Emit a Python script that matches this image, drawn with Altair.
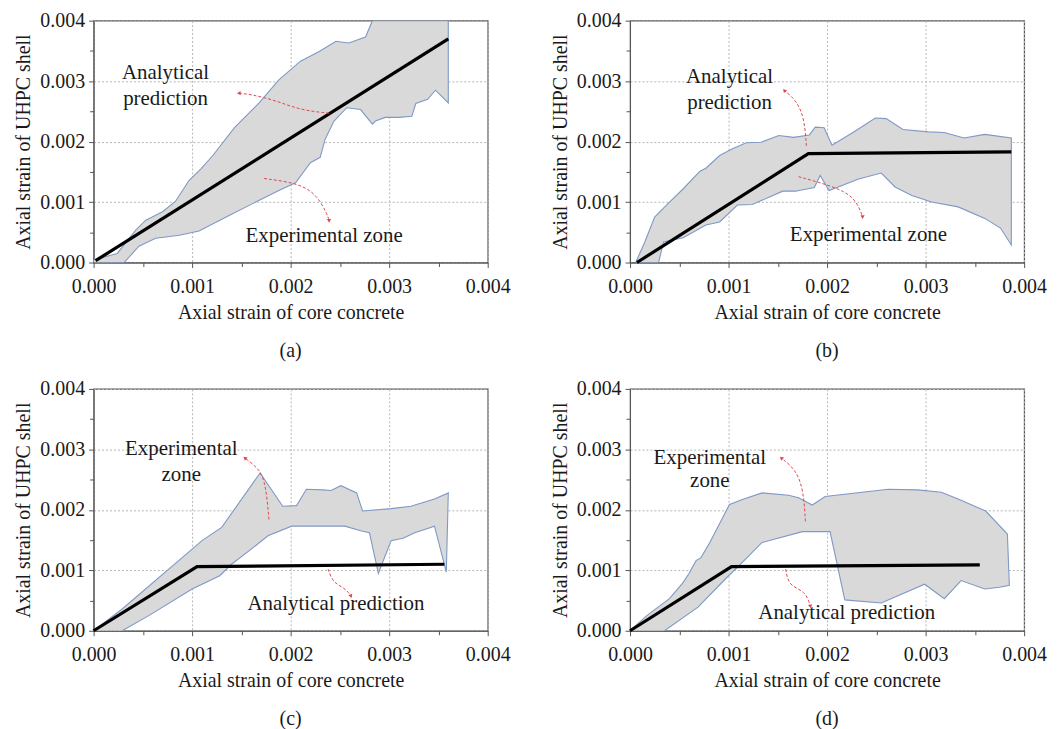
import altair as alt
import pandas as pd

FONT = "Liberation Serif"
RED = "#e0474c"

# ---------------- data ----------------
# Experimental zone outlines: upper edge left->right, then lower edge right->left
A_ZONE_X = [0.00000, 0.00024, 0.00043, 0.00053, 0.00070, 0.00083, 0.00097, 0.00109, 0.00121, 0.00143,
            0.00168, 0.00188, 0.00210, 0.00229, 0.00246, 0.00259, 0.00276, 0.00283, 0.00360,
            0.00360, 0.00347, 0.00339, 0.00327, 0.00323, 0.00310, 0.00296, 0.00286, 0.00283, 0.00271,
            0.00257, 0.00244, 0.00235, 0.00230, 0.00220, 0.00205, 0.00188, 0.00161, 0.00138, 0.00107,
            0.00087, 0.00063, 0.00046, 0.00031, 0.00000]
A_ZONE_Y = [0.00004, 0.00015, 0.00054, 0.00070, 0.00084, 0.00101, 0.00136, 0.00155, 0.00177, 0.00223,
            0.00264, 0.00302, 0.00333, 0.00349, 0.00366, 0.00363, 0.00373, 0.00400, 0.00400,
            0.00264, 0.00285, 0.00270, 0.00263, 0.00242, 0.00240, 0.00240, 0.00234, 0.00229, 0.00253,
            0.00256, 0.00234, 0.00204, 0.00174, 0.00165, 0.00132, 0.00119, 0.00097, 0.00078, 0.00052,
            0.00045, 0.00040, 0.00027, 0.00000, 0.00000]

B_ZONE_X = [0.00006, 0.00015, 0.00025, 0.00037, 0.00054, 0.00071, 0.00077, 0.00091, 0.00104, 0.00118,
            0.00133, 0.00151, 0.00166, 0.00182, 0.00188, 0.00197, 0.00205, 0.00227, 0.00249, 0.00260,
            0.00277, 0.00303, 0.00319, 0.00339, 0.00360, 0.00387,
            0.00387, 0.00376, 0.00360, 0.00333, 0.00306, 0.00286, 0.00269, 0.00255, 0.00232, 0.00202,
            0.00193, 0.00187, 0.00168, 0.00155, 0.00141, 0.00124, 0.00109, 0.00091, 0.00077, 0.00054,
            0.00034, 0.00029, 0.00006]
B_ZONE_Y = [0.00001, 0.00034, 0.00075, 0.00095, 0.00122, 0.00151, 0.00156, 0.00177, 0.00188, 0.00198,
            0.00199, 0.00210, 0.00207, 0.00211, 0.00224, 0.00223, 0.00194, 0.00216, 0.00239, 0.00238,
            0.00220, 0.00216, 0.00215, 0.00206, 0.00212, 0.00206,
            0.00029, 0.00057, 0.00073, 0.00092, 0.00100, 0.00111, 0.00125, 0.00148, 0.00138, 0.00119,
            0.00144, 0.00124, 0.00118, 0.00118, 0.00108, 0.00096, 0.00095, 0.00067, 0.00062, 0.00041,
            0.00034, 0.00000, 0.00000]

C_ZONE_X = [0.00000, 0.00029, 0.00100, 0.00110, 0.00130, 0.00169, 0.00192, 0.00206, 0.00216, 0.00233,
            0.00241, 0.00251, 0.00267, 0.00273, 0.00302, 0.00322, 0.00346, 0.00360,
            0.00358, 0.00346, 0.00326, 0.00314, 0.00302, 0.00289, 0.00280, 0.00272, 0.00255, 0.00201,
            0.00177, 0.00160, 0.00140, 0.00128, 0.00100, 0.00056, 0.00029]
C_ZONE_Y = [0.00000, 0.00036, 0.00135, 0.00149, 0.00171, 0.00261, 0.00206, 0.00207, 0.00234, 0.00233,
            0.00232, 0.00240, 0.00228, 0.00198, 0.00202, 0.00206, 0.00218, 0.00228,
            0.00097, 0.00173, 0.00162, 0.00153, 0.00149, 0.00095, 0.00162, 0.00165, 0.00173, 0.00173,
            0.00157, 0.00135, 0.00110, 0.00091, 0.00069, 0.00025, 0.00000]

D_ZONE_X = [0.00000, 0.00017, 0.00040, 0.00054, 0.00060, 0.00067, 0.00072, 0.00081, 0.00101, 0.00114,
            0.00134, 0.00161, 0.00171, 0.00185, 0.00198, 0.00262, 0.00292, 0.00316, 0.00336, 0.00361,
            0.00383, 0.00385,
            0.00375, 0.00360, 0.00336, 0.00319, 0.00299, 0.00255, 0.00218, 0.00203, 0.00175, 0.00134,
            0.00114, 0.00097, 0.00069, 0.00035]
D_ZONE_Y = [0.00000, 0.00025, 0.00053, 0.00080, 0.00095, 0.00116, 0.00121, 0.00146, 0.00209, 0.00217,
            0.00228, 0.00224, 0.00220, 0.00208, 0.00222, 0.00234, 0.00233, 0.00229, 0.00216, 0.00198,
            0.00160, 0.00075,
            0.00072, 0.00069, 0.00083, 0.00053, 0.00077, 0.00046, 0.00051, 0.00164, 0.00164, 0.00146,
            0.00113, 0.00086, 0.00039, 0.00000]

# Analytical prediction lines
A_PRED_X = [0.00002, 0.00360]
A_PRED_Y = [0.00003, 0.00370]
B_PRED_X = [0.00007, 0.00181, 0.00387]
B_PRED_Y = [0.00000, 0.00180, 0.00183]
C_PRED_X = [0.00000, 0.00105, 0.00356]
C_PRED_Y = [0.00000, 0.00106, 0.00110]
D_PRED_X = [0.00000, 0.00103, 0.00355]
D_PRED_Y = [0.00000, 0.00106, 0.00109]

# Annotation arrows (curve points, last point = arrow head) and head angles
A_ARROWS = [([0.00239, 0.00210, 0.00185, 0.00160, 0.00148], [0.00247, 0.00252, 0.00268, 0.00278, 0.00280], 270),
            ([0.00173, 0.00209, 0.00227, 0.00237, 0.00239], [0.00139, 0.00131, 0.00111, 0.00080, 0.00070], 180)]
B_ARROWS = [([0.00179, 0.00177, 0.00169, 0.00157], [0.00193, 0.00238, 0.00268, 0.00284], 320),
            ([0.00171, 0.00215, 0.00230, 0.00236], [0.00142, 0.00122, 0.00102, 0.00076], 180)]
C_ARROWS = [([0.00178, 0.00175, 0.00169, 0.00154], [0.00184, 0.00239, 0.00267, 0.00285], 310),
            ([0.00238, 0.00243, 0.00255, 0.00261], [0.00102, 0.00079, 0.00071, 0.00058], 160)]
D_ARROWS = [([0.00178, 0.00176, 0.00168, 0.00154], [0.00181, 0.00234, 0.00267, 0.00285], 310),
            ([0.00158, 0.00161, 0.00178, 0.00183], [0.00102, 0.00074, 0.00066, 0.00041], 165)]

# Annotation texts (x, y, text)
A_TEXT = [(0.00073, 0.00313, "Analytical"), (0.00073, 0.00271, "prediction"),
          (0.00234, 0.00044, "Experimental zone")]
B_TEXT = [(0.00101, 0.00306, "Analytical"), (0.00101, 0.00264, "prediction"),
          (0.00242, 0.00046, "Experimental zone")]
C_TEXT = [(0.00089, 0.00300, "Experimental"), (0.00089, 0.00258, "zone"),
          (0.00246, 0.00044, "Analytical prediction")]
D_TEXT = [(0.00081, 0.00286, "Experimental"), (0.00081, 0.00247, "zone"),
          (0.00220, 0.00030, "Analytical prediction")]

TICKS = [0.0, 0.0005, 0.001, 0.0015, 0.002, 0.0025, 0.003, 0.0035, 0.004]
X_TITLE = "Axial strain of core concrete"
Y_TITLE = "Axial strain of UHPC shell"

W, H = 396, 243

MINOR = "round(datum.value*10000) % 10 != 0"
LABEL_EXPR = "round(datum.value*10000) % 10 == 0 ? format(datum.value, '.3f') : ''"


def make_axis(title, label_pad, title_pad):
    return alt.Axis(
        title=title, values=TICKS, labelExpr=LABEL_EXPR,
        grid=True, gridDash=[2, 2], gridColor="#b5b5b5", gridWidth=1,
        gridOpacity={"condition": {"test": MINOR, "value": 0}, "value": 1},
        tickSize={"condition": {"test": MINOR, "value": 4}, "value": 5},
        tickColor="#555", domainColor="#555", labelPadding=label_pad, titlePadding=title_pad,
        labelOverlap=False, labelFlush=False,
        labelFont=FONT, titleFont=FONT, labelFontSize=20, titleFontSize=20,
        titleFontWeight="normal", labelColor="#1a1a1a", titleColor="#1a1a1a",
    )


def panel(caption, zx, zy, px, py, arrows, texts):
    xenc = alt.X("x:Q", scale=alt.Scale(domain=[0, 0.004], nice=False, zero=False),
                 axis=make_axis(X_TITLE, 9, 6))
    yenc = alt.Y("y:Q", scale=alt.Scale(domain=[0, 0.004], nice=False, zero=False),
                 axis=make_axis(Y_TITLE, 4, 6))

    zone = pd.DataFrame({"x": zx, "y": zy, "i": list(range(len(zx)))})
    zone_layer = alt.Chart(zone).mark_line(
        fill="#d9d9d9", stroke="#7f98c6", strokeWidth=1.1, clip=True
    ).encode(x=xenc, y=yenc, order="i:Q")

    pred = pd.DataFrame({"x": px, "y": py})
    pred_layer = alt.Chart(pred).mark_line(color="black", strokeWidth=3.2).encode(x=xenc, y=yenc)

    rows, heads = [], []
    for k, (ax, ay, ang) in enumerate(arrows):
        for j, (u, v) in enumerate(zip(ax, ay)):
            rows.append({"x": u, "y": v, "id": k, "j": j})
        heads.append({"x": ax[-1], "y": ay[-1], "angle": ang})
    arrow_layer = alt.Chart(pd.DataFrame(rows)).mark_line(
        color=RED, strokeWidth=1, strokeDash=[3, 2], interpolate="basis"
    ).encode(x=xenc, y=yenc, detail="id:N", order="j:Q")
    head_layer = alt.Chart(pd.DataFrame(heads)).mark_point(
        shape="triangle", filled=True, color=RED, size=18, opacity=1
    ).encode(x=xenc, y=yenc, angle=alt.Angle("angle:Q", scale=None))

    tdf = pd.DataFrame([{"x": t[0], "y": t[1], "t": t[2]} for t in texts])
    text_layer = alt.Chart(tdf).mark_text(
        font=FONT, fontSize=21, color="#1a1a1a", align="center", baseline="middle"
    ).encode(x=xenc, y=yenc, text="t:N")

    return alt.layer(zone_layer, pred_layer, arrow_layer, head_layer, text_layer).properties(
        width=W, height=H,
        title=alt.TitleParams(caption, orient="bottom", offset=19, font=FONT, fontSize=20,
                              fontWeight="normal", color="#1a1a1a"),
    )


pa = panel("(a)", A_ZONE_X, A_ZONE_Y, A_PRED_X, A_PRED_Y, A_ARROWS, A_TEXT)
pb = panel("(b)", B_ZONE_X, B_ZONE_Y, B_PRED_X, B_PRED_Y, B_ARROWS, B_TEXT)
pc = panel("(c)", C_ZONE_X, C_ZONE_Y, C_PRED_X, C_PRED_Y, C_ARROWS, C_TEXT)
pd_ = panel("(d)", D_ZONE_X, D_ZONE_Y, D_PRED_X, D_PRED_Y, D_ARROWS, D_TEXT)

chart = alt.vconcat(
    alt.hconcat(pa, pb, spacing=38),
    alt.hconcat(pc, pd_, spacing=38),
    spacing=16,
    padding={"left": 5, "right": 5, "top": 0, "bottom": 0},
).configure_view(
    stroke="#555", strokeWidth=1.2
)

chart.save("out.html", embed_options={"renderer": "svg", "actions": False})
